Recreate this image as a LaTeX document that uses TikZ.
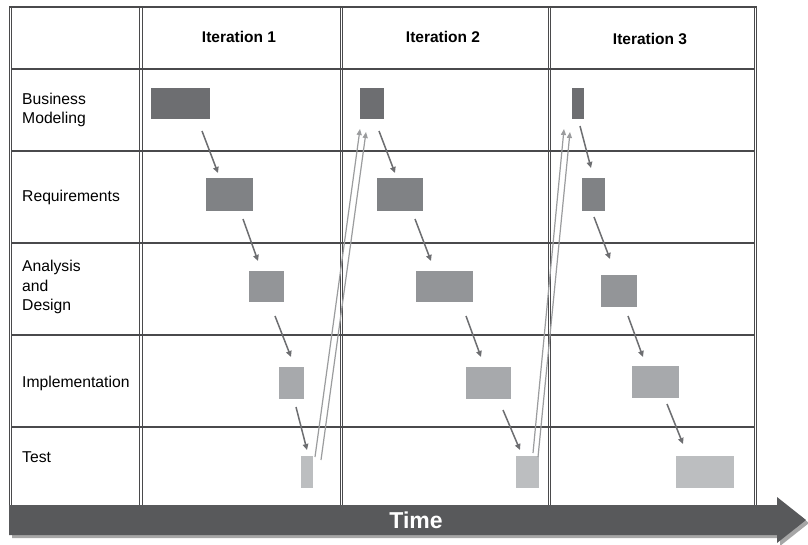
\documentclass[tikz,border=0pt]{standalone}
\usepackage{fontspec}
\setmainfont{Liberation Sans}
\usetikzlibrary{arrows.meta,calc}
\definecolor{gridline}{HTML}{4A4A4C}
\definecolor{bmgray}{HTML}{6D6E71}
\definecolor{rqgray}{HTML}{808285}
\definecolor{adgray}{HTML}{939598}
\definecolor{imgray}{HTML}{A7A9AC}
\definecolor{tegray}{HTML}{BCBEC0}
\definecolor{timegray}{HTML}{58595B}
\definecolor{shadegray}{HTML}{A6A6A6}
\definecolor{backgray}{HTML}{9B9C9E}
\tikzset{
  box/.style={inner sep=0pt, outer sep=0pt},
  flow/.style={draw=bmgray, line width=1.5pt, -{Triangle[length=6pt,width=5.5pt]}},
  back/.style={draw=backgray, line width=1.2pt, -{Triangle[length=6pt,width=5pt]}},
  rowlabel/.style={anchor=west, align=left, inner sep=0pt, font=\fontsize{15.7}{19.3}\selectfont},
  head/.style={font=\fontsize{15.5}{18}\selectfont\bfseries},
}
\begin{document}
\begin{tikzpicture}[x=1pt, y=-1pt, line join=round]
\useasboundingbox (0,0) rectangle (808,544);
\fill[white] (0,0) rectangle (808,544);
\foreach \x in {10.5,141,341.5,549.5,755.5}
  \draw[gridline, line width=1.1pt, double=white, double distance=1.6pt] (\x,7) -- (\x,506);
\foreach \y in {7,69,151,243,335,427}
  \draw[gridline, line width=1.4pt] (12,\y) -- (754,\y);
\draw[gridline, line width=1.1pt] (9,7) -- (757,7);

\node[head] (it1) at (239,37) {Iteration 1};
\node[head] (it2) at (443,37) {Iteration 2};
\node[head] (it3) at (650,39) {Iteration 3};
\node[rowlabel] (bm) at (22,110) {Business\\Modeling};
\node[rowlabel] (rq) at (22,197) {Requirements};
\node[rowlabel] (ad) at (22,287) {Analysis\\and\\Design};
\node[rowlabel] (im) at (22,383) {Implementation};
\node[rowlabel] (te) at (22,457) {Test};

\foreach \n/\xa/\ya/\xb/\yb/\c in {
  bm1/151/88/210/119/bmgray, rq1/206/178/253/211/rqgray, ad1/249/271/284/302/adgray,
  im1/279/367/304/399/imgray, te1/301/456/313/488/tegray,
  bm2/360/88/384/119/bmgray, rq2/377/178/423/211/rqgray, ad2/416/271/473/302/adgray,
  im2/466/367/511/399/imgray, te2/516/456/539/488/tegray,
  bm3/572/88/584/119/bmgray, rq3/582/178/605/211/rqgray, ad3/601/275/637/307/adgray,
  im3/632/366/679/398/imgray, te3/676/456/734/488/tegray}
  \node[box, fill=\c, minimum width={(\xb-\xa)*1pt}, minimum height={(\yb-\ya)*1pt}] (\n) at ({(\xa+\xb)/2},{(\ya+\yb)/2}) {};

\foreach \a/\b/\sx/\sy/\ex/\ey in {
  bm1/rq1/21.5/12/-11.5/-5, rq1/ad1/13.5/8/-8.5/-10, ad1/im1/8.5/14/-0.5/-10, im1/te1/4.5/8/0/-6,
  bm2/rq2/7/12/-5/-5, rq2/ad2/15/8/-13.5/-10, ad2/im2/21.5/14/-7.5/-10, im2/te2/14.5/11/-7.5/-6,
  bm3/rq3/2/7/-2.5/-10, rq3/ad3/0.5/6/-9/-16, ad3/im3/9/9/-12.5/-9, im3/te3/11.5/6/-22/-12}
  \draw[flow] ($(\a.south)+(\sx,\sy)$) -- ($(\b.north)+(\ex,\ey)$);

\foreach \a/\b/\sx/\sy/\ex/\ey in {te1/bm2/2/1/0/10, te1/bm2/8/4/6/13, te2/bm3/-6/-3/-8/10, te2/bm3/-1/1/-2/13}
  \draw[back] ($(\a.north east)+(\sx,\sy)$) -- ($(\b.south west)+(\ex,\ey)$);

\fill[shadegray] (12,508) -- (780,508) -- (780,500) -- (809,523) -- (780,546) -- (780,538) -- (12,538) -- cycle;
\fill[timegray] (9,505) -- (777,505) -- (777,497) -- (806,520) -- (777,543) -- (777,535) -- (9,535) -- cycle;
\node[text=white, font=\fontsize{23}{23}\selectfont\bfseries] (time) at (416,520) {Time};
\end{tikzpicture}
\end{document}
